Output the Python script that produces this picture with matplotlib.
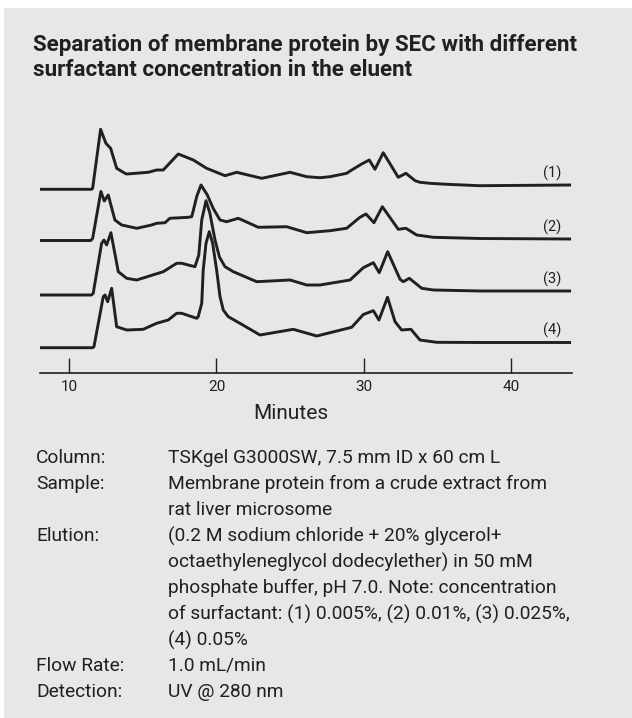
import matplotlib
matplotlib.use("Agg")
import matplotlib.pyplot as plt
from matplotlib import font_manager as fm
from matplotlib.patches import Rectangle

# ---------------- data (minutes, detector signal) ----------------
t1_min = [8.03, 11.53, 11.60, 12.14, 12.50, 12.82, 13.23, 13.79, 13.91, 15.37,
          15.94, 16.39, 17.41, 18.43, 19.33, 20.58, 21.37, 23.07, 24.99, 26.12,
          27.02, 27.70, 28.83, 29.17, 29.85, 30.36, 30.75, 31.31, 32.33, 32.85,
          33.47, 33.80, 34.48, 35.62, 37.87, 44.05]
t1_sig = [0, 0, 1, 60, 46, 41, 21, 16, 15.3, 17,
          19.3, 19.3, 35.3, 29.3, 21, 13.6, 17, 11, 17, 12.6,
          11.6, 12.6, 16, 19.3, 25.3, 29.3, 20, 36.6, 12, 16,
          8.6, 7, 6, 5, 3.6, 4.3]

t2_min = [8.03, 11.47, 11.60, 12.16, 12.39, 12.66, 13.11, 13.57, 14.59, 15.60,
          15.94, 16.51, 16.84, 18.09, 18.32, 18.43, 18.66, 18.95, 19.38, 19.78,
          20.24, 20.69, 21.48, 22.84, 24.76, 26.12, 27.70, 28.83, 29.73, 30.14,
          30.68, 31.25, 32.33, 32.85, 33.58, 34.71, 37.87, 44.05]
t2_sig = [0, 0, 2, 49, 39.5, 45.5, 20.5, 15.5, 12.2, 15.5,
          17.2, 17.8, 22.2, 23.2, 23.8, 30, 44, 55.5, 45.5, 32,
          20.5, 18.8, 22.2, 13.2, 13.8, 7.8, 9.8, 12.2, 23.2, 26.5,
          17.8, 33.8, 11.2, 12.2, 5.5, 3.2, 2, 1.5]

t3_min = [8.03, 11.53, 11.64, 12.21, 12.37, 12.55, 12.84, 13.34, 13.91, 14.59,
          16.39, 17.30, 17.64, 18.54, 18.80, 19.00, 19.29, 19.55, 19.90, 20.20,
          20.58, 21.14, 22.73, 24.99, 26.12, 27.02, 29.06, 29.96, 30.64, 31.04,
          31.61, 32.45, 32.67, 33.08, 33.92, 34.71, 37.87, 44.05]
t3_sig = [0, 0, 1.7, 51.7, 55, 50, 62.3, 23.3, 16.7, 15,
          23.3, 31.7, 31.7, 28.3, 40, 75, 94.3, 82, 55, 38,
          28.3, 23.3, 13.3, 15, 10, 10, 15, 27.3, 32.3, 22.3,
          43.3, 15.7, 13.3, 16.7, 6.7, 5, 4, 4]

t4_min = [8.03, 11.60, 11.69, 12.32, 12.44, 12.62, 12.89, 13.23, 13.91, 15.03,
          15.94, 16.73, 17.30, 17.64, 18.66, 18.76, 19.00, 19.10, 19.29, 19.51,
          19.74, 20.01, 20.24, 20.46, 20.80, 21.59, 22.95, 25.21, 26.80, 29.17,
          29.96, 30.64, 31.02, 31.60, 32.11, 32.56, 33.19, 33.80, 34.94, 37.87,
          44.05]
t4_sig = [0, 0, 1, 51, 52.7, 46, 59.4, 21, 17.7, 18.4,
          24.4, 27.7, 34.4, 34.4, 29.4, 31, 44.4, 77.7, 104.4, 116,
          104.4, 77.7, 51, 37.7, 31, 24.4, 12.7, 18.4, 11.7, 20.4,
          33.2, 37, 27.7, 50.4, 26, 17.7, 18.4, 7.7, 5.4, 5.2,
          5.2]

trace_labels = ["(1)", "(2)", "(3)", "(4)"]
trace_offsets = [158.4, 107.2, 52.7, 0.0]
x_ticks = [10, 20, 30, 40]
x_label = "Minutes"

title_lines = ["Separation of membrane protein by SEC with different",
               "surfactant concentration in the eluent"]
info_keys = ["Column:", "Sample:", "", "Elution:", "", "", "", "",
             "Flow Rate:", "Detection:"]
info_vals = ["TSKgel G3000SW, 7.5 mm ID x 60 cm L",
             "Membrane protein from a crude extract from",
             "rat liver microsome",
             "(0.2 M sodium chloride + 20% glycerol+",
             "octaethyleneglycol dodecylether) in 50 mM",
             "phosphate buffer, pH 7.0. Note: concentration",
             "of surfactant: (1) 0.005%, (2) 0.01%, (3) 0.025%,",
             "(4) 0.05%",
             "1.0 mL/min",
             "UV @ 280 nm"]

# ---------------- fonts ----------------
def pick(fams):
    for f in fams:
        try:
            fm.findfont(fm.FontProperties(family=f), fallback_to_default=False)
            return f
        except Exception:
            pass
    return "DejaVu Sans"

FONT = pick(["Roboto", "Liberation Sans"])
plt.rcParams["font.family"] = [FONT, "DejaVu Sans"]

INK = "#231f20"
W, H = 632, 718
fig = plt.figure(figsize=(W / 100, H / 100), dpi=100)
fig.patch.set_facecolor("white")
fig.patches.append(Rectangle((4 / W, 0), 1 - 4 / W, 1 - 8 / H, transform=fig.transFigure,
                             facecolor="#e6e7e8", edgecolor="none", zorder=-10))

def px(x, y):
    return x / W, 1 - y / H

# ---------------- chart ----------------
ax_left, ax_right, ax_bot, ax_top = 40, 571.8, 372.9, 120
ax = fig.add_axes([ax_left / W, 1 - ax_bot / H, (ax_right - ax_left) / W, (ax_bot - ax_top) / H])
ax.set_zorder(5)
ax.patch.set_alpha(0)
ax.set_xlim(8.03, 44.10)
ax.set_ylim(-25.2, 227.7)

for (mins, sig), off in zip([(t1_min, t1_sig), (t2_min, t2_sig), (t3_min, t3_sig), (t4_min, t4_sig)],
                            trace_offsets):
    ax.plot(mins, [off + s for s in sig], color=INK, lw=2.1,
            solid_joinstyle="round", solid_capstyle="butt")

for lab, off, sig in zip(trace_labels, trace_offsets, [t1_sig, t2_sig, t3_sig, t4_sig]):
    ax.text(42.74, off + sig[-1] + 12, lab, ha="center", va="center", fontsize=10.5, color=INK)

for s in ["left", "right", "top"]:
    ax.spines[s].set_visible(False)
ax.spines["bottom"].set_color(INK)
ax.spines["bottom"].set_linewidth(1.2)
ax.set_yticks([])
ax.set_xticks(x_ticks)
ax.set_xticklabels([str(t) for t in x_ticks])
ax.tick_params(axis="x", direction="in", length=11, width=1.0, color=INK,
               labelcolor=INK, labelsize=11, pad=5)

fig.text(*px(290.7, 414), x_label, ha="center", va="center", fontsize=15, color=INK, zorder=6)

# ---------------- title & info ----------------
fig.canvas.draw()
r = fig.canvas.get_renderer()

def fit(t, target):
    bb = t.get_window_extent(r)
    t.set_fontsize(t.get_fontsize() * target / bb.width)

t1 = fig.text(*px(33, 45), title_lines[0], ha="left", va="center", fontsize=16,
              fontweight="bold", color=INK, zorder=6)
fit(t1, 545)
fig.text(*px(33, 70), title_lines[1], ha="left", va="center", fontsize=t1.get_fontsize(),
         fontweight="bold", color=INK, zorder=6)

probe = fig.text(*px(168, 483), info_vals[1], ha="left", va="center", fontsize=13, color=INK)
fit(probe, 380)
fs = probe.get_fontsize()
probe.remove()
for i, (k, v) in enumerate(zip(info_keys, info_vals)):
    y = 458 + 26 * i
    if k:
        fig.text(*px(36, y), k, ha="left", va="center", fontsize=fs, color=INK, zorder=6)
    fig.text(*px(168, y), v, ha="left", va="center", fontsize=fs, color=INK, zorder=6)

fig.savefig("out.png", dpi=100, facecolor=fig.get_facecolor())
